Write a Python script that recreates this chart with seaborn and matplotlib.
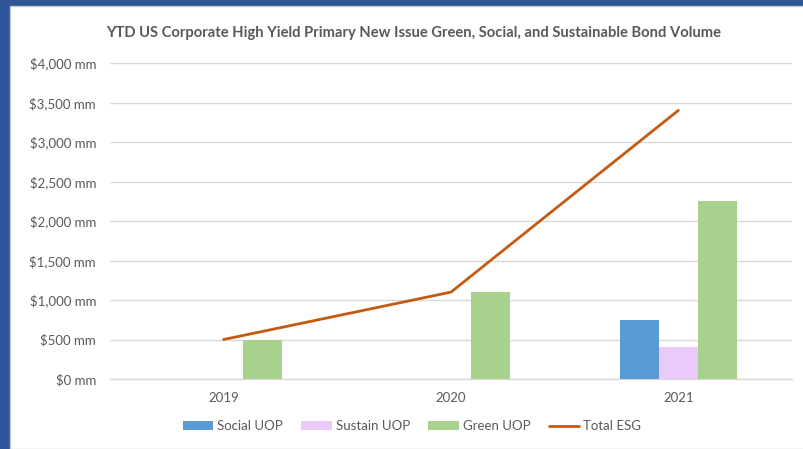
import matplotlib
matplotlib.use("Agg")
import matplotlib.pyplot as plt
import seaborn as sns
import numpy as np
import pandas as pd
from matplotlib.patches import Rectangle, Patch
from matplotlib.lines import Line2D
from matplotlib.ticker import FuncFormatter

years = ["2019", "2020", "2021"]
social = [0, 0, 750]
sustain = [0, 0, 400]
green = [500, 1100, 2250]
total = [500, 1100, 3400]
series = ["Social UOP", "Sustain UOP", "Green UOP"]
colors = ["#5B9BD5", "#EBC9FA", "#A9D18E"]
line_color = "#C55A11"
text_color = "#595959"

sns.set_theme(style="white")
plt.rcParams["font.family"] = ["Lato", "DejaVu Sans"]

df = pd.DataFrame({
    "year": years * 3,
    "series": [s for s in series for _ in years],
    "value": social + sustain + green,
})

fig = plt.figure(figsize=(8.04, 4.49), dpi=100)
fig.patch.set_facecolor("#2E5597")
fig.patches.append(Rectangle((10/804, 0), 1, 1 - 6/449, transform=fig.transFigure,
                             facecolor="white", edgecolor="#C8C8C8", lw=1, zorder=-5))

ax = fig.add_axes([110/804, 1 - 379/449, (792-110)/804, (379-63)/449])
ax.set_facecolor("none")
sns.barplot(data=df, x="year", y="value", hue="series", hue_order=series,
            palette=colors, saturation=1, width=0.517, ax=ax, legend=False,
            linewidth=0, zorder=3)
sns.lineplot(x=np.arange(len(years)), y=total, color=line_color, linewidth=2,
             ax=ax, zorder=4)

ax.set_ylim(0, 4000)
ax.set_xlim(-0.5, 2.5)
ax.set_yticks(np.arange(0, 4001, 500))
ax.yaxis.set_major_formatter(FuncFormatter(lambda v, p: f"${v:,.0f} mm"))
ax.set_xticks(range(len(years)))
ax.set_xticklabels(years)
ax.grid(axis="y", color="#D9D9D9", linewidth=1, zorder=0)
ax.set_axisbelow(True)
for s in ["left", "right", "top"]:
    ax.spines[s].set_visible(False)
ax.spines["bottom"].set_color("#D9D9D9")
ax.spines["bottom"].set_linewidth(1)
ax.tick_params(axis="both", length=0, labelsize=9.5, colors=text_color)
ax.tick_params(axis="y", pad=10)
ax.tick_params(axis="x", pad=9)
ax.set_xlabel("")
ax.set_ylabel("")

fig.text(414/804, 1 - 33/449,
         "YTD US Corporate High Yield Primary New Issue Green, Social, and Sustainable Bond Volume",
         ha="center", va="center", fontsize=10.6, fontweight="bold", color=text_color)

handles = [Patch(facecolor=c, edgecolor="none") for c in colors] + \
          [Line2D([0], [0], color=line_color, lw=2)]
labels = series + ["Total ESG"]
leg = fig.legend(handles, labels, loc="center", bbox_to_anchor=(412/804, 1 - 426/449),
                 ncol=4, frameon=False, fontsize=9.5, handlelength=2.3, handleheight=0.6,
                 handletextpad=0.3, columnspacing=1.4)
for t in leg.get_texts():
    t.set_color(text_color)

fig.savefig("out.png", dpi=100, facecolor=fig.get_facecolor())
